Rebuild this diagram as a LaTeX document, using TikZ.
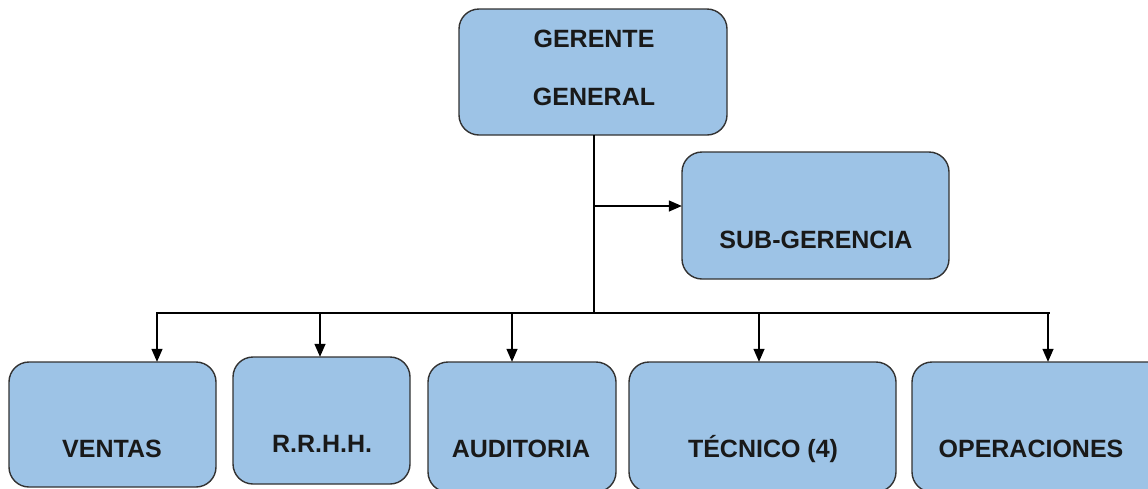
\documentclass[tikz,border=0pt]{standalone}
\usepackage{fontspec}
\setmainfont{Liberation Sans}
\usetikzlibrary{arrows.meta,calc}
\definecolor{boxfill}{RGB}{157,195,230}
\definecolor{boxline}{RGB}{50,50,50}
\begin{document}
\begin{tikzpicture}[x=1pt,y=-1pt,
  orgbox/.style={draw=boxline,fill=boxfill,line width=1.4pt,rounded corners=20pt},
  lbl/.style={font=\fontsize{25}{30}\selectfont\bfseries,text=black!90,anchor=base,inner sep=0pt},
  conn/.style={line width=1.4pt,draw=black},
  arr/.style={conn,-{Triangle[length=13pt,width=11pt]}}]
\useasboundingbox (0,0) rectangle (1148,488);
\clip (0,0) rectangle (1148,488);
% boxes
\path[orgbox] (459,9) rectangle (727,135);
\node[inner sep=0pt,minimum width=268pt,minimum height=126pt] (GG) at (593,72) {};
\path[orgbox] (682,152) rectangle (949,279);
\node[inner sep=0pt,minimum width=267pt,minimum height=127pt] (SG) at (815.5,215.5) {};
\path[orgbox] (9,362) rectangle (216,487);
\node[inner sep=0pt,minimum width=207pt,minimum height=125pt] (V) at (112.5,424.5) {};
\path[orgbox] (233,357) rectangle (410,484);
\node[inner sep=0pt,minimum width=177pt,minimum height=127pt] (R) at (321.5,420.5) {};
\path[orgbox] (428,362) rectangle (616,492);
\node[inner sep=0pt,minimum width=188pt,minimum height=130pt] (A) at (522,427) {};
\path[orgbox] (629,362) rectangle (896,492);
\node[inner sep=0pt,minimum width=267pt,minimum height=130pt] (T) at (762.5,427) {};
\path[orgbox] (912,362) rectangle (1170,492);
\node[inner sep=0pt,minimum width=258pt,minimum height=130pt] (O) at (1041,427) {};
% labels
\node[lbl] (tGG1) at (594,47) {GERENTE};
\node[lbl] (tGG2) at (594,105) {GENERAL};
\node[lbl] (tSG) at (816,248) {SUB-GERENCIA};
\node[lbl] (tV) at (112,457) {VENTAS};
\node[lbl] (tR) at (322,452) {R.R.H.H.};
\node[lbl] (tA) at (521,457) {AUDITORIA};
\node[lbl] (tT) at (763,457) {TÉCNICO (4)};
\node[lbl] (tO) at (1031,457) {OPERACIONES};
% connectors
\coordinate (j) at (594,313);
\coordinate (s) at (594,206);
\coordinate (b1) at (157,313);
\coordinate (b2) at (320,313);
\coordinate (b3) at (512,313);
\coordinate (b4) at (759,313);
\coordinate (b5) at (1048,313);
\draw[conn] (GG.south -| j) -- (j);
\draw[conn] (156,313) -- (1050,313);
\draw[arr] (s) -- (s -| SG.west);
\draw[arr] (b1) -- (b1 |- V.north);
\draw[arr] (b2) -- (b2 |- R.north);
\draw[arr] (b3) -- (b3 |- A.north);
\draw[arr] (b4) -- (b4 |- T.north);
\draw[arr] (b5) -- (b5 |- O.north);
\end{tikzpicture}
\end{document}
